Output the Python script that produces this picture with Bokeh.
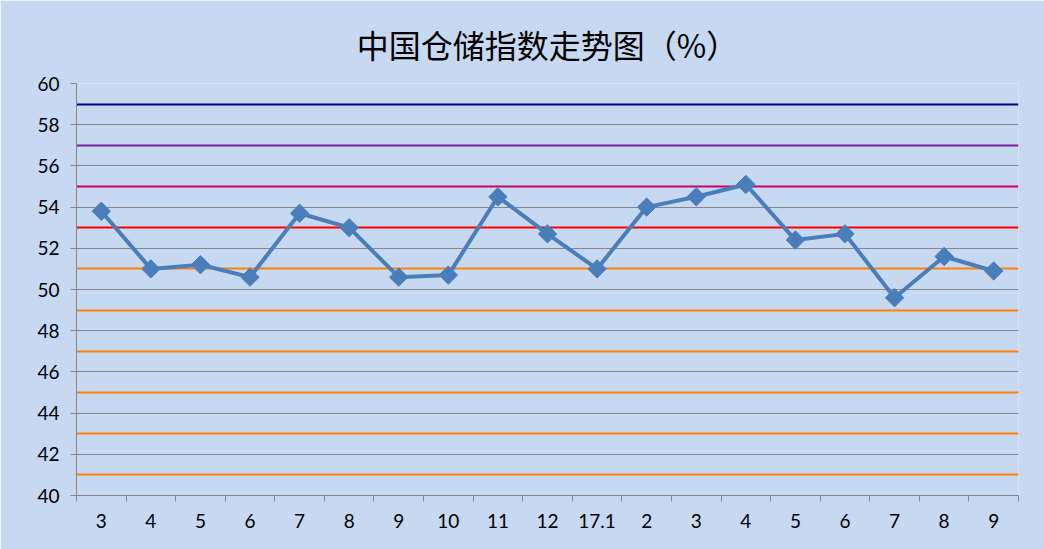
from bokeh.plotting import figure
from bokeh.models import FixedTicker, ColumnDataSource
from bokeh.embed import file_html
from bokeh.resources import INLINE
import math

# Data
categories = ["3", "4", "5", "6", "7", "8", "9", "10", "11", "12", "17.1",
              "2", "3", "4", "5", "6", "7", "8", "9"]
values = [53.8, 51.0, 51.2, 50.6, 53.7, 53.0, 50.6, 50.7, 54.5, 52.7, 51.0,
          54.0, 54.5, 55.1, 52.4, 52.7, 49.6, 51.6, 50.9]
ref_levels = [41, 43, 45, 47, 49, 51, 53, 55, 57, 59]
ref_colors = ["#FF8000", "#FF8000", "#FF8000", "#FF8000", "#FF8000", "#FF8000",
              "#FF0000", "#CC0066", "#7F1F99", "#000099"]
y_ticks = list(range(40, 61, 2))

bg = "#C6D9F1"
idx = list(range(len(categories)))

p = figure(width=1044, height=549, output_backend="svg", toolbar_location=None,
           x_range=(-0.5, len(categories) - 0.5), y_range=(40, 60),
           min_border_left=76, min_border_right=26, min_border_top=83,
           min_border_bottom=54, title="中国仓储指数走势图（%）")

p.background_fill_color = bg
p.border_fill_color = bg
p.outline_line_color = None

p.title.align = "center"
p.title.text_font = "Noto Sans CJK SC"
p.title.text_font_size = "32px"
p.title.text_font_style = "normal"
p.title.text_color = "#000000"
p.title.standoff = 33

# grid
p.xgrid.grid_line_color = None
p.ygrid.ticker = FixedTicker(ticks=y_ticks)
p.ygrid.grid_line_color = "#868686"
p.ygrid.grid_line_width = 1

# reference colored lines
p.hspan(y=ref_levels, line_color=ref_colors, line_width=2.2)

# axes
p.yaxis.ticker = FixedTicker(ticks=y_ticks)
p.yaxis.axis_line_color = "#868686"
p.yaxis.major_tick_line_color = "#868686"
p.yaxis.major_tick_out = 6
p.yaxis.major_tick_in = 0
p.yaxis.minor_tick_line_color = None
p.yaxis.major_label_text_font = "Lato"
p.yaxis.major_label_text_font_size = "19px"
p.yaxis.major_label_text_color = "#000000"
p.yaxis.major_label_standoff = 11

boundaries = [i - 0.5 for i in range(len(categories) + 1)]
p.xaxis.ticker = FixedTicker(ticks=idx, minor_ticks=boundaries)
p.xaxis.major_label_overrides = {i: c for i, c in enumerate(categories)}
p.xaxis.axis_line_color = "#868686"
p.xaxis.major_tick_line_color = None
p.xaxis.minor_tick_line_color = "#868686"
p.xaxis.minor_tick_out = 6
p.xaxis.minor_tick_in = 0
p.xaxis.major_label_text_font = "Lato"
p.xaxis.major_label_text_font_size = "19px"
p.xaxis.major_label_text_color = "#000000"
p.xaxis.major_label_standoff = 12

src = ColumnDataSource(dict(x=idx, y=values))
p.line("x", "y", source=src, line_color="#4A7EBB", line_width=4)
p.scatter("x", "y", source=src, marker="square", size=13, angle=math.pi / 4,
          fill_color="#4A7EBB", line_color="#4A7EBB")

open("out.html", "w").write(file_html(p, INLINE))
